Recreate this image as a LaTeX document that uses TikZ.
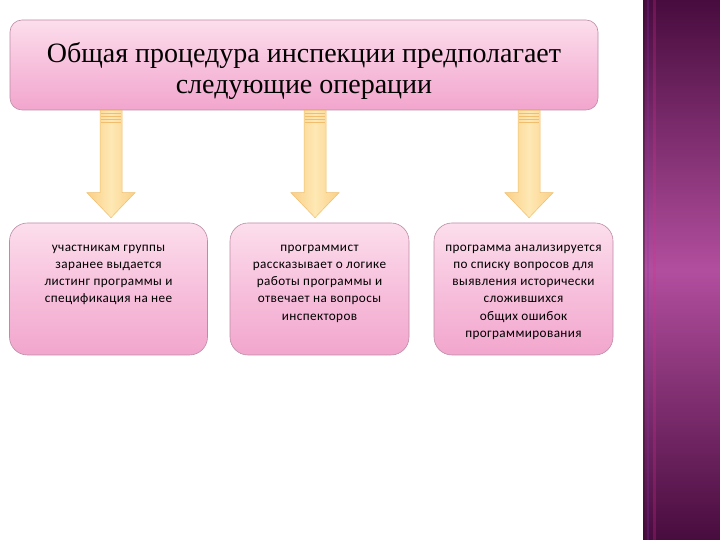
\documentclass[tikz,border=0pt]{standalone}
\usepackage{fontspec}
\setmainfont{Liberation Serif}
\newfontfamily\boxfont{Carlito}[LetterSpace=3]
\usepackage{tikz}
\usetikzlibrary{calc,positioning}

\definecolor{rimpink}{RGB}{188,140,165}
\definecolor{toppink}{RGB}{252,222,236}
\definecolor{midpink}{RGB}{247,192,220}
\definecolor{lowpink}{RGB}{242,166,205}
\definecolor{arrowedge}{RGB}{240,190,110}
\definecolor{arrowside}{RGB}{250,208,135}
\definecolor{arrowmid}{RGB}{254,232,180}
\definecolor{plumdark}{RGB}{72,12,62}
\definecolor{plumlight}{RGB}{178,78,158}

\tikzset{
  titlebox/.style={draw=rimpink, line width=0.6pt, rounded corners=12pt,
    top color=toppink, bottom color=lowpink, middle color=midpink,
    minimum width=588pt, minimum height=90pt, inner sep=0pt},
  lowbox/.style={draw=rimpink, line width=0.6pt, rounded corners=18pt,
    top color=toppink, bottom color=lowpink, middle color=midpink,
    minimum height=132pt, inner sep=0pt},
  boxtext/.style={font=\boxfont\fontsize{13.2}{17.2}\selectfont, align=center,
    anchor=north, inner sep=0pt},
  fatarrow/.style={draw=arrowedge, line width=0.5pt,
    left color=arrowside, right color=arrowside, middle color=arrowmid},
  stripe/.style={draw=arrowedge, line width=0.6pt}
}

\begin{document}
\begin{tikzpicture}[x=1pt,y=1pt]
\useasboundingbox (0,0) rectangle (720,540);
\fill[white] (0,0) rectangle (720,540);

% Полоса справа
\shade[top color=plumdark, bottom color=plumdark, middle color=plumlight]
  (643,0) rectangle (720,540);
\fill[plumdark!80!black, opacity=0.4] (643,0) rectangle (645,540);
\fill[plumlight!70!blue, opacity=0.25] (647,0) rectangle (649,540);
\fill[magenta!70!plumlight, opacity=0.25] (653,0) rectangle (656,540);

% Блоки
\node[titlebox] (top) at (304,475) {};
\node[font=\fontsize{28}{31}\selectfont, align=center] (title) at ($(top.center)+(0,-6)$)
  {Общая процедура инспекции предполагает\\следующие операции};

\node[lowbox, minimum width=198pt] (b1) at (108.5,251) {};
\node[lowbox, minimum width=179pt] (b2) at (319.5,251) {};
\node[lowbox, minimum width=179pt] (b3) at (523.5,251) {};

\node[boxtext] (t1) at ($(b1.north)+(0,-22)$)
  {участникам группы\\заранее выдается\\листинг программы и\\спецификация на нее};
\node[boxtext] (t2) at ($(b2.north)+(0,-22)$)
  {программист\\рассказывает о логике\\работы программы и\\отвечает на вопросы\\инспекторов};
\node[boxtext] (t3) at ($(b3.north)+(0,-22)$)
  {программа анализируется\\по списку вопросов для\\выявления исторически\\сложившихся\\общих ошибок\\программирования};

% Стрелки
\coordinate (s1) at (top.south -| 111,0);
\coordinate (s2) at (top.south -| 315,0);
\coordinate (s3) at (top.south -| 529,0);
\coordinate (e1) at ($(b1.north -| s1)+(0,5)$);
\coordinate (e2) at ($(b2.north -| s2)+(0,5)$);
\coordinate (e3) at ($(b3.north -| s3)+(0,5)$);

\foreach \s/\e in {s1/e1, s2/e2, s3/e3}{
  \draw[fatarrow] ($(\s)+(-11,0)$) -- ($(\e)+(-11,25)$) -- ($(\e)+(-24,25)$)
    -- (\e) -- ($(\e)+(24,25)$) -- ($(\e)+(11,25)$) -- ($(\s)+(11,0)$) -- cycle;
  \foreach \d in {3,6,9,12}
    \draw[stripe] ($(\s)+(-10,-\d)$) -- ($(\s)+(10,-\d)$);
}
\end{tikzpicture}
\end{document}
